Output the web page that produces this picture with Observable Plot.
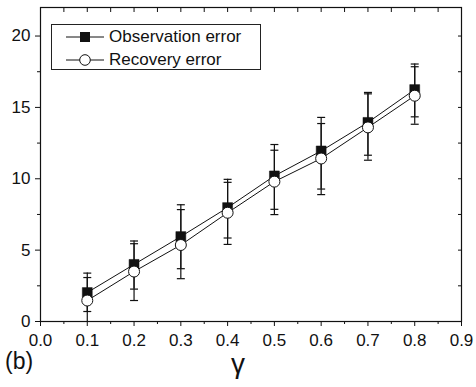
<!DOCTYPE html>
<html>
<head>
<meta charset="utf-8">
<script src="https://cdn.jsdelivr.net/npm/d3@7"></script>
<script src="https://cdn.jsdelivr.net/npm/@observablehq/plot@0.6"></script>
<style>
  html, body { margin: 0; padding: 0; background: #fff; }
  #wrap { position: relative; width: 476px; height: 387px; font-family: "Liberation Sans", Arial, sans-serif; color: #111; }
  #legend { position: absolute; left: 51px; top: 24px; width: 210px; height: 46px; border: 1px solid #222; background: #fff; box-sizing: border-box; }
  #legend .row { position: absolute; left: 0; height: 20px; display: flex; align-items: center; font-size: 17px; white-space: nowrap; }
  #legend svg { display: block; margin-left: 14px; margin-right: 5px; }
  #panel { position: absolute; left: 5px; top: 350px; font-size: 23px; line-height: 1; }
  #xlabel { position: absolute; left: 231px; top: 351px; font-size: 28px; line-height: 0.9; }
</style>
</head>
<body>
<div id="wrap"></div>
<script>
// ---- data ----
const gamma = [0.1, 0.2, 0.3, 0.4, 0.5, 0.6, 0.7, 0.8];
const obsValue = [2.03, 4.0, 5.95, 7.98, 10.2, 11.95, 13.95, 16.25];
const obsLow   = [0.70, 2.27, 3.70, 5.85, 7.86, 9.28, 11.65, 14.34];
const obsHigh  = [3.39, 5.64, 8.18, 9.96, 12.40, 14.30, 16.05, 18.04];
const recValue = [1.47, 3.50, 5.36, 7.62, 9.80, 11.42, 13.60, 15.82];
const recLow   = [-0.15, 1.47, 3.00, 5.40, 7.49, 8.89, 11.30, 13.82];
const recHigh  = [3.08, 5.45, 7.84, 9.75, 12.00, 13.87, 15.95, 17.85];
const seriesNames = ["Observation error", "Recovery error"];
const xTicks = [0.0, 0.1, 0.2, 0.3, 0.4, 0.5, 0.6, 0.7, 0.8, 0.9];
const xMinorTicks = [0.05, 0.15, 0.25, 0.35, 0.45, 0.55, 0.65, 0.75, 0.85];
const yTicks = [0, 5, 10, 15, 20];
const yMinorTicks = [2.5, 7.5, 12.5, 17.5];
const xLabel = "γ";
const panelLabel = "(b)";

const obs = gamma.map((g, i) => ({g, v: obsValue[i], lo: obsLow[i], hi: obsHigh[i]}));
const rec = gamma.map((g, i) => ({g, v: recValue[i], lo: recLow[i], hi: recHigh[i]}));

const capSymbol = {draw(ctx, size) { const w = Math.sqrt(size) / 2; ctx.moveTo(-w, 0); ctx.lineTo(w, 0); }};

const ink = "#111";
const chart = Plot.plot({
  width: 476,
  height: 387,
  marginLeft: 40,
  marginRight: 15,
  marginTop: 7,
  marginBottom: 66,
  style: {fontFamily: "'Liberation Sans', Arial, sans-serif", fontSize: "17px", color: ink, background: "#fff"},
  x: {domain: [0, 0.9]},
  y: {domain: [0, 22]},
  marks: [
    // axes
    Plot.axisX({ticks: xTicks, tickSize: 5, tickPadding: 7, tickFormat: d3.format(".1f"), fontSize: 17, label: null, stroke: ink}),
    Plot.axisX({ticks: xMinorTicks, tickSize: 3, text: null, label: null, stroke: ink}),
    Plot.axisX({anchor: "top", ticks: xTicks.concat(xMinorTicks), tickSize: 4, dy: 4, text: null, label: null, stroke: ink}),
    Plot.axisY({ticks: yTicks, tickSize: 5, tickPadding: 5, fontSize: 17, label: null, stroke: ink}),
    Plot.axisY({ticks: yMinorTicks, tickSize: 3, text: null, label: null, stroke: ink}),
    Plot.axisY({anchor: "right", ticks: yTicks.concat(yMinorTicks), tickSize: 4, dx: -4, text: null, label: null, stroke: ink}),
    Plot.frame({stroke: ink, strokeWidth: 1.2}),
    // lines
    Plot.line(obs, {x: "g", y: "v", stroke: ink, strokeWidth: 1}),
    Plot.line(rec, {x: "g", y: "v", stroke: ink, strokeWidth: 1}),
    // error bars
    Plot.ruleX(obs, {x: "g", y1: "lo", y2: "hi", stroke: ink, strokeWidth: 1.2, clip: true}),
    Plot.ruleX(rec, {x: "g", y1: "lo", y2: "hi", stroke: ink, strokeWidth: 1.2, clip: true}),
    Plot.dot(obs, {x: "g", y: "lo", symbol: capSymbol, r: 4.5, stroke: ink, strokeWidth: 1.2}),
    Plot.dot(obs, {x: "g", y: "hi", symbol: capSymbol, r: 4.5, stroke: ink, strokeWidth: 1.2}),
    Plot.dot(rec.filter(d => d.lo > 0), {x: "g", y: "lo", symbol: capSymbol, r: 4.5, stroke: ink, strokeWidth: 1.2}),
    Plot.dot(rec, {x: "g", y: "hi", symbol: capSymbol, r: 4.5, stroke: ink, strokeWidth: 1.2}),
    // markers
    Plot.dot(obs, {x: "g", y: "v", symbol: "square", r: 5.6, fill: ink, stroke: ink, strokeWidth: 0.5}),
    Plot.dot(rec, {x: "g", y: "v", symbol: "circle", r: 5.5, fill: "#fff", stroke: ink, strokeWidth: 1})
  ]
});

const wrap = document.getElementById("wrap");
wrap.appendChild(chart);

// legend
const legend = document.createElement("div");
legend.id = "legend";
seriesNames.forEach((name, i) => {
  const row = document.createElement("div");
  row.className = "row";
  row.style.top = (i === 0 ? 2 : 25) + "px";
  const sym = i === 0
    ? `<rect x="14" y="5" width="10" height="10" fill="${ink}"/>`
    : `<circle cx="19" cy="10" r="5.3" fill="#fff" stroke="${ink}" stroke-width="1"/>`;
  row.innerHTML = `<svg width="38" height="20"><line x1="0" x2="38" y1="10" y2="10" stroke="${ink}" stroke-width="1"/>${sym}</svg><span>${name}</span>`;
  legend.appendChild(row);
});
wrap.appendChild(legend);

const panel = document.createElement("div");
panel.id = "panel";
panel.textContent = panelLabel;
wrap.appendChild(panel);

const xl = document.createElement("div");
xl.id = "xlabel";
xl.textContent = xLabel;
wrap.appendChild(xl);
</script>
</body>
</html>
